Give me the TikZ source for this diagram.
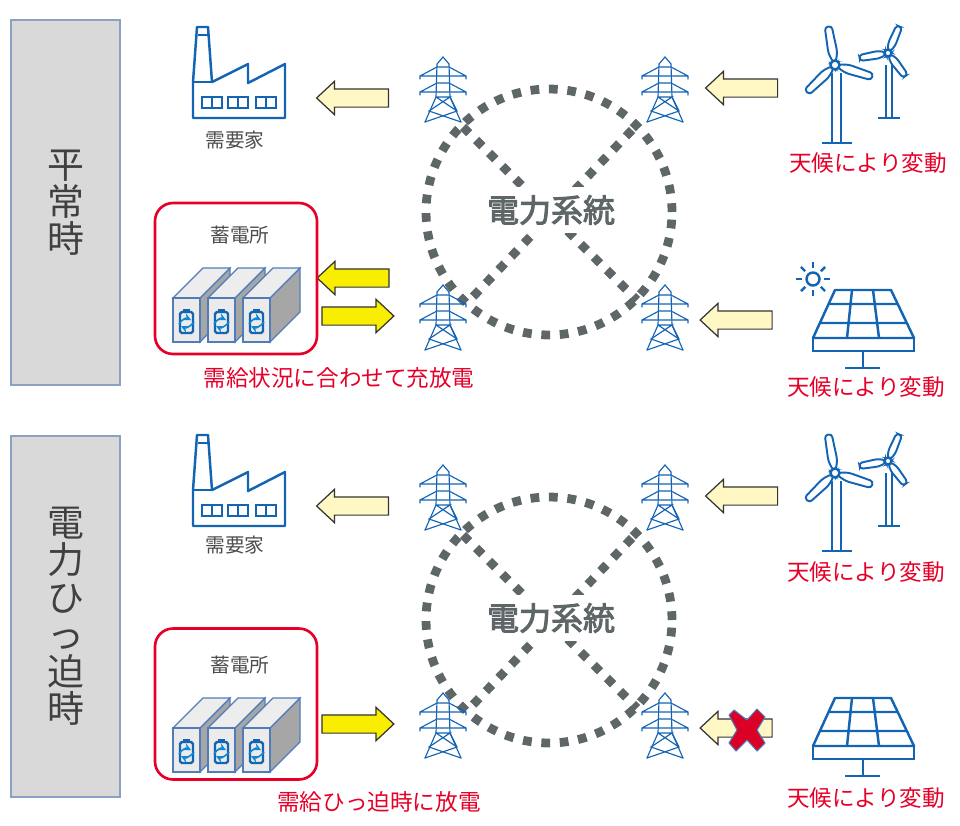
\documentclass[tikz,border=0pt]{standalone}
\usepackage{fontspec}
\setmainfont{Noto Sans CJK JP}
\newfontfamily\gridfont[FakeBold=3]{Noto Sans CJK JP}
\usetikzlibrary{shapes.arrows, positioning}
\definecolor{iconblue}{RGB}{20,100,180}
\definecolor{gridgray}{RGB}{95,102,104}
\definecolor{alertred}{RGB}{230,0,40}
\definecolor{creamfill}{RGB}{255,248,196}
\definecolor{yellowfill}{RGB}{250,238,0}
\definecolor{sidebox}{RGB}{217,217,217}
\definecolor{sideedge}{RGB}{140,160,195}
\definecolor{batedge}{RGB}{80,125,185}
\tikzset{
    sidepanel/.style={draw=sideedge, line width=1.1pt, fill=sidebox, outer sep=0pt, text=black!75, align=center, font=\fontsize{21}{21.2}\selectfont},
    stationbox/.style={draw=alertred, line width=1.5pt, rounded corners=0.36cm, minimum width=3.24cm, minimum height=3.02cm, outer sep=0pt},
    notelabel/.style={text=alertred, inner sep=0pt, font=\fontsize{12.85}{15}\selectfont},
    iconlabel/.style={text=black!70, inner sep=0pt, font=\fontsize{11.2}{14}\selectfont},
    gridlabel/.style={text=gridgray, fill=white, inner sep=0pt, minimum width=2.7cm, minimum height=0.92cm, font=\gridfont\fontsize{18.2}{20}\selectfont},
    gridring/.style={circle, draw=gridgray, line width=5pt, dash pattern=on 5pt off 5.5pt, minimum size=4.92cm, inner sep=0pt, outer sep=0pt},
    gridcross/.style={draw=gridgray, line width=5pt, dash pattern=on 5pt off 5.5pt},
    flowarrow/.style={single arrow, draw=black!80, line width=0.7pt, minimum width=0.64cm, minimum height=1.44cm, single arrow head extend=0.15cm, single arrow tip angle=86, inner sep=0.17cm, outer sep=0pt},
    iconline/.style={draw=iconblue, line width=1.4pt},
    pylonline/.style={draw=iconblue, line width=0.65pt, line cap=round},
    pics/pylon/.style={code={
        \draw[pylonline] (-6,-25) -- (0,-32) -- (6,-25) -- (7,8) -- (18,33) (-6,-25) -- (-7,8) -- (-18,33);
        \draw[pylonline] (-23,-10) -- (-23,-13) -- (-6,-22) (23,-10) -- (23,-13) -- (6,-22) (-23,-13) -- (23,-13) (-6,-22) -- (6,-22);
        \draw[pylonline] (-23,6) -- (-23,3) -- (-6,-6) (23,6) -- (23,3) -- (6,-6) (-23,3) -- (23,3) (-6,-6) -- (6,-6);
        \draw[pylonline] (-7,8) -- (7,8) -- (-14,22) -- (18,33) (7,8) -- (14,22) -- (-18,33) (-7,8) -- (14,22) (7,8) -- (-14,22);
    }},
    pics/factory/.style={code={
        \draw[iconline, line join=round] (0,0) -- (0,-36) -- (4,-91) -- (15,-91) -- (19,-36) -- (55,-54) -- (55,-35) -- (92,-54) -- (92,0) -- cycle;
        \draw[iconline] (0,-36) -- (19,-36) (4.5,-83) -- (14.5,-83);
        \foreach \winx in {9,35,63} {
            \draw[iconline] (\winx,-21) rectangle (\winx+20,-10) (\winx+10,-21) -- (\winx+10,-10);
        }
    }},
    pics/blade/.style={code={
        \draw[draw=iconblue, line width=1.1pt, fill=white, rounded corners=1.8pt] (3,-1.5) -- (13,-4.5) -- (39,-3.5) -- (39,3.5) -- (13,4.5) -- (3,1.5) -- cycle;
    }},
    pics/turbines/.style={code={
        % small one
        \draw[iconline] (51,0) -- (51,53) (57,0) -- (57,53) (43,53) -- (65,53);
        \begin{scope}[shift={(53,-12)}]
            \foreach \ang in {67,-170,-53} {
                \pic[rotate=\ang, xscale=0.74, yscale=0.85] at (0,0) {blade};
            }
            \draw[iconline, fill=white] (0,0) circle (3.5);
        \end{scope}
        % big one
        \draw[iconline] (-3,8) -- (-3,78) (6,8) -- (6,78) (-13,78) -- (17,78);
        \foreach \ang in {100,-17.5,-136} {
            \pic[rotate=\ang] at (0,0) {blade};
        }
        \draw[iconline, fill=white] (0,0) circle (4.5);
    }},
    pics/solar/.style={code={
        \draw[iconline, line join=round] (-28,0) -- (28,0) -- (51,48) -- (-50,48) -- cycle;
        \draw[iconline] (-50,48) rectangle (51,61);
        \draw[iconline] (-34.5,14) -- (34.5,14) (-43,33) -- (43,33) (-11,0) -- (-16,48) (10,0) -- (16,48);
        \draw[iconline] (0,61) -- (0,78) (-18,78) -- (17,78);
    }},
    pics/sun/.style={code={
        \draw[iconline] (0,0) circle (6.5);
        \foreach \ang in {0,45,...,315} {
            \draw[iconline, rotate=\ang] (11,0) -- (17,0);
        }
    }},
    pics/batblock/.style={code={
        \draw[batedge, line width=0.7pt, fill=black!35] (27,0) -- (57,-30) -- (57,14) -- (27,44) -- cycle;
        \draw[batedge, line width=0.7pt, fill=black!7] (0,0) -- (30,-30) -- (57,-30) -- (27,0) -- cycle;
        \draw[batedge, line width=0.7pt, fill=blue!6!black!8] (0,0) rectangle (27,44);
        \draw[draw=iconblue, line width=1.4pt, rounded corners=1pt] (7,14) rectangle (20,35);
        \draw[draw=iconblue, line width=1.4pt] (10,12) -- (17,12);
        \draw[draw=cyan!70!blue, line width=0.9pt, ->, >=stealth] (6,26) .. controls (10,20) and (14,20) .. (18,22);
        \draw[draw=cyan!70!blue, line width=0.9pt, ->, >=stealth] (21,24) .. controls (16,30) and (12,30) .. (8,28);
    }},
    pics/redcross/.style={code={
        \draw[draw=batedge, line width=0.6pt, fill=alertred!95!black, line join=round] (-13,-20) -- (-18,-15) -- (-10,0) -- (-18,13) -- (-11,21) -- (0,10) -- (10,21) -- (18,13) -- (10,0) -- (18,-13) -- (10,-21) -- (0,-10) -- cycle;
    }},
}
\begin{document}
\begin{tikzpicture}[x=0.02cm, y=-0.02cm]
    \useasboundingbox (0,0) rectangle (960,825);

    % Left panels
    \node[sidepanel, minimum width=2.18cm, minimum height=7.3cm] (calmpanel) at (65.5,202.5) {平\\常\\時};
    \node[sidepanel, minimum width=2.18cm, minimum height=7.22cm] (tightpanel) at (65.5,616.5) {電\\力\\ひ\\っ\\迫\\時};

    % Both rows
    \foreach \rowy/\rowtag in {0/a,408/b} {
        \coordinate (crossNW\rowtag) at (463,127+\rowy);
        \coordinate (crossSE\rowtag) at (637,300+\rowy);
        \coordinate (crossNE\rowtag) at (632,130+\rowy);
        \coordinate (crossSW\rowtag) at (467,303+\rowy);
        \node[gridring] (ring\rowtag) at (549,212+\rowy) {};
        \draw[gridcross] (crossNW\rowtag) -- (crossSE\rowtag);
        \draw[gridcross] (crossNE\rowtag) -- (crossSW\rowtag);
        \node[gridlabel] (gridtext\rowtag) at (551,210+\rowy) {電力系統};

        \pic at (443,89+\rowy) {pylon};
        \pic at (665,89+\rowy) {pylon};
        \pic at (443,317+\rowy) {pylon};
        \pic at (665,317+\rowy) {pylon};

        \pic at (193,118+\rowy) {factory};
        \pic at (835,65+\rowy) {turbines};
        \pic at (863,290+\rowy) {solar};

        \node[flowarrow, fill=creamfill, shape border rotate=180] (demandarrow\rowtag) at (357.5,98+\rowy) {};
        \node[flowarrow, fill=creamfill, shape border rotate=180] (windarrow\rowtag) at (746.5,88+\rowy) {};
        \node[flowarrow, fill=creamfill, shape border rotate=180] (solararrow\rowtag) at (741,320+\rowy) {};
        \node[flowarrow, fill=yellowfill] (chargearrow\rowtag) at (353,316+\rowy) {};
    }
    \node[flowarrow, fill=yellowfill, shape border rotate=180] (dischargearrow) at (358,278) {};
    \pic at (747,730) {redcross};
    \pic at (813,279) {sun};

    % Storage stations
    \node[stationbox] (stationa) at (236,278.5) {};
    \node[stationbox] (stationb) at (236,704) {};
    \foreach \batx in {173,208,243} {
        \pic at (\batx,298) {batblock};
        \pic at (\batx,728) {batblock};
    }

    % Labels
    \node[iconlabel] (demanda) at (235,140) {需要家};
    \node[iconlabel] (demandb) at (235,545) {需要家};
    \node[iconlabel] (storea) at (240,235) {蓄電所};
    \node[iconlabel] (storeb) at (240,665) {蓄電所};
    \node[notelabel] (winda) at (868,163) {天候により変動};
    \node[notelabel] (solara) at (866,387) {天候により変動};
    \node[notelabel] (windb) at (866,572) {天候により変動};
    \node[notelabel] (solarb) at (866,798) {天候により変動};
    \node[notelabel] (chargenote) at (339,378) {需給状況に合わせて充放電};
    \node[notelabel] (dischargenote) at (379,802) {需給ひっ迫時に放電};
\end{tikzpicture}
\end{document}
